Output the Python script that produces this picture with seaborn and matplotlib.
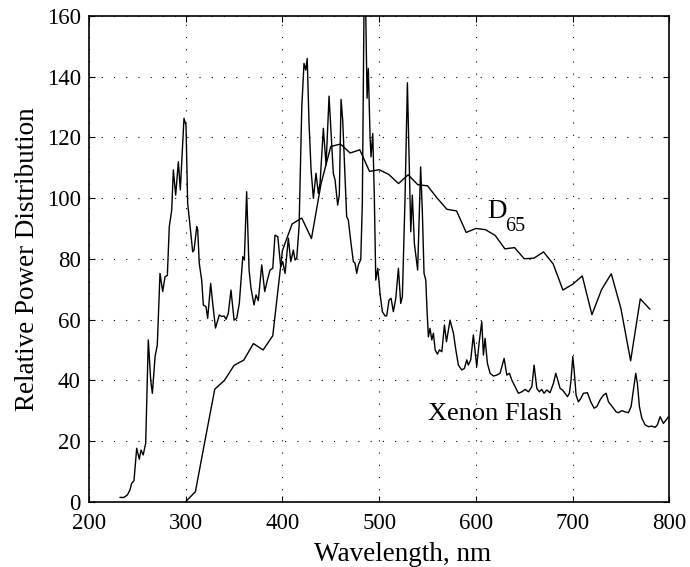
import numpy as np
import pandas as pd
import matplotlib
matplotlib.use("Agg")
import matplotlib.pyplot as plt
import seaborn as sns

# ---------------- data ----------------
d65_wavelength = [300, 310, 320, 330, 340, 350, 360, 370, 380, 390, 400, 410, 420,
                  430, 440, 450, 460, 470, 480, 490, 500, 510, 520, 530, 540, 550,
                  560, 570, 580, 590, 600, 610, 620, 630, 640, 650, 660, 670, 680,
                  690, 700, 710, 720, 730, 740, 750, 760, 770, 780]
d65_power = [0.03, 3.29, 20.24, 37.05, 39.95, 44.91, 46.64, 52.09, 49.98, 54.65,
             82.75, 91.49, 93.43, 86.68, 104.87, 117.01, 117.81, 114.86, 115.92,
             108.81, 109.35, 107.80, 104.79, 107.69, 104.41, 104.05, 100.00, 96.33,
             95.79, 88.69, 90.01, 89.60, 87.70, 83.29, 83.70, 80.03, 80.21, 82.28,
             78.28, 69.72, 71.61, 74.35, 61.60, 69.89, 75.09, 63.59, 46.42, 66.81,
             63.38]

xenon_wavelength = [232, 236, 239.6, 242.4, 244, 246.5, 249.3, 252, 253.8, 256, 258.6,
                    261.3, 263.8, 265.5, 268.3, 270.6, 273.4, 276.2, 278.6, 281, 283,
                    285.5, 287.2, 289.6, 292.4, 294.4, 298.2, 300.3, 302, 304.4, 307.2,
                    308.6, 311.4, 312.4, 314, 316.5, 318.2, 321, 322.7, 325.8, 327.9,
                    330.8, 334.7, 337.2, 339.6, 341.7, 344, 346.8, 350, 352.7, 355.4,
                    359, 360.6, 363, 365.5, 367.5, 370.6, 372.7, 375, 378.6, 381.7,
                    384.4, 387.2, 390, 392.3, 395.2, 398.2, 400.3, 402.7, 406.1, 408.6,
                    411.3, 413, 414.8, 417.2, 420, 422.3, 424.1, 425.6, 427.5, 429.6,
                    432, 434.7, 437.1, 438.9, 442.3, 445.1, 448.2, 450.3, 452.6, 454.4,
                    457.1, 458.8, 460.6, 462.3, 464.7, 466.4, 468.1, 470.9, 473.3, 475.1,
                    476.8, 478.5, 481, 482.6, 484.4, 486.1, 487.5, 488.8, 490.6, 491.6,
                    493.4, 495, 496.5, 498.6, 500.9, 503.3, 506.1, 507.8, 510.2, 512.3,
                    514.7, 517.2, 519.9, 522.3, 524, 526.8, 529.2, 531.6, 532.7, 534.3,
                    536.4, 539.8, 542.9, 544.7, 546.4, 548.2, 549.5, 550.9, 552.6, 554.4,
                    556.1, 557.9, 560.2, 562.3, 564.8, 567.5, 569.6, 573.3, 576.8, 579.3,
                    581.9, 585.4, 588.1, 590.6, 592.2, 594.7, 597.4, 599.2, 600.9, 603.3,
                    606.1, 607.8, 609.5, 611.9, 614.7, 618.1, 621.6, 625, 629.2, 632,
                    634.7, 637.1, 640.5, 644, 647.5, 650.9, 654.4, 657.9, 660.2, 663,
                    665.7, 668.1, 670.5, 673.3, 676.7, 680.2, 682.6, 684.7, 687.1, 689.5,
                    692.2, 694.7, 696.7, 698.4, 700.2, 701.6, 703.6, 706, 708.5, 711.2,
                    715.3, 718.8, 722.2, 725, 728.4, 731.9, 734.7, 737.1, 739.8, 742.2,
                    745, 747.4, 750.9, 754.3, 757.7, 760.5, 762.9, 765.3, 767, 769.1,
                    771.6, 775, 778.4, 781.9, 785.3, 787.7, 790.5, 792.2, 793.9, 796.7,
                    799.1]
xenon_power = [1.4, 1.4, 2.2, 3.9, 6, 6.9, 17.6, 14, 17, 15.4, 19.2,
               53.3, 40, 35.7, 47.8, 51.6, 75.2, 69.2, 74.1, 74.5, 90.6,
               96, 109.3, 101, 112, 102.7, 126.3, 124, 98.3, 91.1, 82.3,
               82.9, 90.6, 89.5, 78.5, 73, 64.8, 64.2, 60.4, 71.9, 65.3,
               57.2, 61.5, 61, 61.2, 60.1, 62, 69.7, 59.8, 60.4, 65.3,
               80.7, 79.6, 102.1, 76.3, 70.3, 64.8, 68.1, 66.2, 78, 69.2,
               73, 76.3, 76.9, 87.8, 87.3, 77.4, 79.1, 75.2, 86.8, 79.1,
               82.9, 79.6, 80.2, 90.6, 130, 144.4, 142.2, 146, 124.6, 109.3,
               99.9, 108.2, 101.6, 104.9, 123, 110.9, 133.6, 121.3, 108.2, 106,
               97.7, 101, 132.5, 125.7, 107, 93.9, 92.8, 85.1, 79.1, 78.5,
               75.2, 78, 79.8, 98.3, 165, 162, 132.9, 142.7, 120.2, 113.6,
               121.3, 100.5, 73, 76.9, 68.6, 62.6, 61.2, 61.2, 66.4, 67,
               62.6, 67, 76.9, 65.3, 67.5, 100.5, 138, 103.8, 88.9, 101,
               85.1, 76.3, 110.3, 95, 75.2, 73, 63.1, 54.3, 57.1, 53.3,
               55.5, 50, 48.6, 50, 49.4, 58.2, 52.7, 59.8, 55.5, 50,
               45, 43.4, 43.9, 46.7, 45, 46.7, 54.9, 49.4, 44.5, 52.2,
               59.3, 48.3, 53.8, 45.6, 42.3, 41.4, 41.7, 42.3, 47.2, 41.7,
               42.3, 40.1, 37.9, 35.7, 36.2, 37, 36.2, 37.9, 45, 37.3,
               36.2, 37, 35.7, 36.8, 35.9, 39, 42.3, 40.1, 37.3, 36.8,
               35.7, 34.6, 35.7, 40.1, 47.8, 43.4, 35.1, 32.9, 34, 35.7,
               35.9, 32.9, 30.8, 31.3, 33.5, 35.1, 35.7, 32.9, 31.8, 30.8,
               29.6, 29.3, 30, 29.6, 29.3, 31.3, 36.8, 42.3, 39, 31.3,
               27.5, 25.3, 24.7, 24.9, 24.5, 25.3, 28, 26.9, 25.8, 26.9,
               28]

x_ticks = [200, 300, 400, 500, 600, 700, 800]
y_ticks = [0, 20, 40, 60, 80, 100, 120, 140, 160]

# ---------------- style ----------------
sns.set_theme(style="ticks")
plt.rcParams['font.family'] = ['Liberation Serif', 'DejaVu Serif']
plt.rcParams['text.color'] = 'black'
plt.rcParams['axes.labelcolor'] = 'black'
plt.rcParams['xtick.color'] = 'black'
plt.rcParams['ytick.color'] = 'black'

fig = plt.figure(figsize=(6.9, 5.67), dpi=100)
ax = fig.add_axes([0.129, 0.1152, 0.841, 0.8566])

xen = pd.DataFrame({"Wavelength": xenon_wavelength, "Power": xenon_power})
d65 = pd.DataFrame({"Wavelength": d65_wavelength, "Power": d65_power})

sns.lineplot(data=xen, x="Wavelength", y="Power", ax=ax, color="black",
             linewidth=1.0, estimator=None, sort=False)
sns.lineplot(data=d65, x="Wavelength", y="Power", ax=ax, color="black",
             linewidth=1.0, estimator=None, sort=False)

ax.set_xlim(200, 800)
ax.set_ylim(0, 160)
ax.set_xticks(x_ticks)
ax.set_yticks(y_ticks)
ax.set_xticklabels([str(v) for v in x_ticks])
ax.set_yticklabels([str(v) for v in y_ticks])

ax.grid(True, color="black", linestyle=(0, (1, 10)), linewidth=0.8)
for s in ax.spines.values():
    s.set_visible(True)
    s.set_linewidth(1.2)
    s.set_color("black")
ax.tick_params(direction="in", length=4, width=0.8, top=True, right=True,
               labelsize=16.5, colors="black")
ax.tick_params(axis="x", pad=8)
ax.tick_params(axis="y", pad=6)

ax.set_xlabel("Wavelength, nm", fontsize=19.5, labelpad=5, color="black")
ax.xaxis.set_label_coords(0.54, -0.082)
ax.set_ylabel("Relative Power Distribution", fontsize=19.5, labelpad=5, color="black")

# D65 label: letter and subscript as two texts
ax.text(611.5, 93.5, "D", fontsize=19.5, ha="left", va="baseline", color="black")
ax.text(630.5, 89.3, "65", fontsize=14.5, ha="left", va="baseline", color="black")
ax.text(550.6, 26.9, "Xenon Flash", fontsize=19, ha="left", va="baseline", color="black")

fig.savefig("out.png", dpi=100)
